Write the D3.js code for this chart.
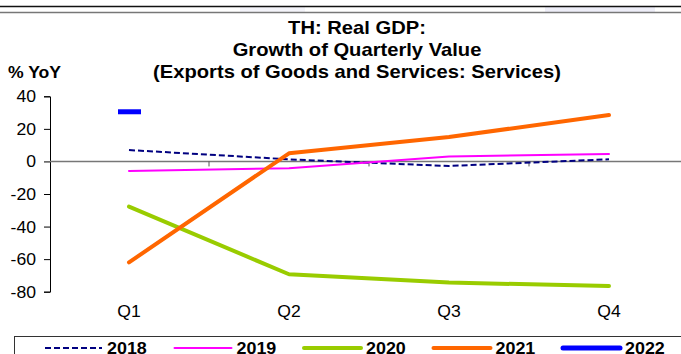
<!DOCTYPE html>
<html>
<head>
<meta charset="utf-8">
<script src="https://cdn.jsdelivr.net/npm/d3@7"></script>
<style>
  body { margin: 0; background: #fff; }
  svg { display: block; font-family: "Liberation Sans", Arial, sans-serif; }
</style>
</head>
<body>
<script>
// valores
var QUARTERS = ["Q1", "Q2", "Q3", "Q4"];
var YEARS = ["2018", "2019", "2020", "2021", "2022"];
var V2018 = [7, 1.3, -2.8, 1.3];
var V2019 = [-5.8, -4.2, 3, 4.6];
var V2020 = [-27.7, -69.3, -74.4, -76.5];
var V2021 = [-62, 5, 15, 28.5];
var V2022 = [30.5];
var Y_TICKS = [40, 20, 0, -20, -40, -60, -80];

var series = [
  { name: YEARS[0], values: V2018, color: "#000080", width: 2, dash: "6,3" },
  { name: YEARS[1], values: V2019, color: "#ff00ff", width: 2, dash: null },
  { name: YEARS[2], values: V2020, color: "#99cc00", width: 4, dash: null },
  { name: YEARS[3], values: V2021, color: "#ff6600", width: 4, dash: null },
  { name: YEARS[4], values: V2022, color: "#0000ff", width: 5, dash: null }
];

var w = 681, h = 354;

var svg = d3.select("body").append("svg").attr("width", w).attr("height", h);

// el texto del original esta algo ensanchado
function texto(g, x, y, str, size, sx, anchor, bold) {
  return g.append("text")
    .attr("transform", "translate(" + x + "," + y + ") scale(" + sx + ",1)")
    .attr("text-anchor", anchor).attr("font-size", size + "px")
    .attr("font-weight", bold ? "bold" : "normal").attr("fill", "#000")
    .text(str);
}

// lineas de arriba
svg.append("rect").attr("x", 545).attr("y", 6).attr("width", 110).attr("height", 6).attr("fill", "#eeeef8");
svg.append("rect").attr("x", 240).attr("y", 6).attr("width", 65).attr("height", 6).attr("fill", "#f4f4fa");
svg.append("line").attr("x1", 0).attr("x2", w).attr("y1", 6.5).attr("y2", 6.5).attr("stroke", "#111").attr("stroke-width", 1.5);
svg.append("line").attr("x1", 0).attr("x2", w).attr("y1", 12.5).attr("y2", 12.5).attr("stroke", "#777").attr("stroke-width", 1.5);

// titulo
var titulo = ["TH: Real GDP:", "Growth of Quarterly Value", "(Exports of Goods and Services: Services)"];
titulo.forEach(function (t, i) {
  texto(svg, 357, 34 + i * 22, t, 18, 1.12, "middle", true);
});

texto(svg, 8, 78, "% YoY", 16, 1.1, "start", true);

var x = d3.scalePoint().domain(QUARTERS).range([49, 689]).padding(0.5);
var y = d3.scaleLinear().domain([-80, 40]).range([291.7, 96.3]);

// eje y
var yAxis = svg.append("g").attr("transform", "translate(50,0)")
  .call(d3.axisLeft(y).tickValues(Y_TICKS).tickSize(6).tickFormat(""));
yAxis.select(".domain").attr("stroke", "#000");
yAxis.selectAll(".tick line").attr("stroke", "#000");
Y_TICKS.forEach(function (t) {
  texto(svg, 36, y(t) + 6, String(t), 16, 1.1, "end", false);
});

// linea del cero
svg.append("line").attr("x1", 50).attr("x2", w).attr("y1", y(0)).attr("y2", y(0)).attr("stroke", "#777").attr("stroke-width", 1.5);
var bandas = [1, 2, 3];
svg.selectAll("line.xt").data(bandas).enter().append("line").attr("class", "xt")
  .attr("x1", function (d) { return 49 + d * 160; }).attr("x2", function (d) { return 49 + d * 160; })
  .attr("y1", y(0)).attr("y2", y(0) + 5).attr("stroke", "#555");

QUARTERS.forEach(function (q) {
  texto(svg, x(q), 317, q, 16, 1.1, "middle", false);
});

var line = d3.line().x(function (d, i) { return x(QUARTERS[i]); }).y(function (d) { return y(d); });

series.forEach(function (s) {
  if (s.values.length > 1) {
    svg.append("path").datum(s.values).attr("d", line).attr("fill", "none")
      .attr("stroke", s.color).attr("stroke-width", s.width)
      .attr("stroke-dasharray", s.dash).attr("stroke-linecap", s.dash ? "butt" : "round")
      .attr("stroke-linejoin", "round");
  } else {
    // punto unico: marca corta
    svg.append("line").attr("x1", x(QUARTERS[0]) - 11).attr("x2", x(QUARTERS[0]) + 12)
      .attr("y1", y(s.values[0])).attr("y2", y(s.values[0]))
      .attr("stroke", s.color).attr("stroke-width", s.width);
  }
});

// leyenda
svg.append("rect").attr("x", 14.5).attr("y", 336.5).attr("width", 680).attr("height", 30)
  .attr("fill", "none").attr("stroke", "#333").attr("stroke-width", 1);

var legend = svg.selectAll("g.leg").data(series).enter().append("g").attr("class", "leg")
  .attr("transform", function (d, i) { return "translate(" + (45 + i * 129.5) + ",348)"; });
legend.append("line").attr("x1", 0).attr("x2", 57).attr("y1", 0).attr("y2", 0)
  .attr("stroke", function (d) { return d.color; })
  .attr("stroke-width", function (d) { return d.width === 2 && !d.dash ? 2 : d.width; })
  .attr("stroke-dasharray", function (d) { return d.dash ? "6,3" : null; })
  .attr("stroke-linecap", function (d) { return d.dash ? "butt" : "round"; });
legend.each(function (d) {
  texto(d3.select(this), 62, 6, d.name, 16, 1.12, "start", true);
});
</script>
</body>
</html>
